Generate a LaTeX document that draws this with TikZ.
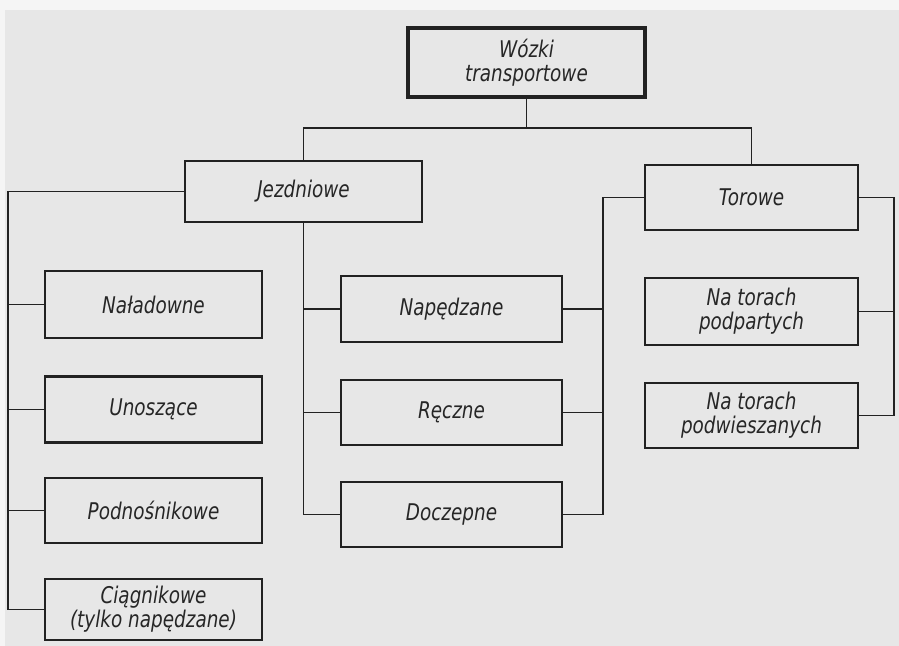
\documentclass[tikz,border=0pt]{standalone}
\usepackage{fontspec}
\newfontfamily\lett{DejaVu Sans}[FakeStretch=0.8]
\definecolor{pagebg}{HTML}{E7E7E7}
\definecolor{ink}{HTML}{222222}
\definecolor{txt}{HTML}{262626}
\begin{document}
\begin{tikzpicture}[x=0.5pt,y=-0.5pt,
  box/.style={draw=ink,line width=1.1pt,fill=pagebg,inner sep=0pt,align=center,
    text=txt,font=\lett\itshape\fontsize{11.5}{12}\selectfont},
  topbox/.style={box,line width=1.6pt},
  conn/.style={draw=ink,line width=0.8pt}]
\useasboundingbox (0,0) rectangle (899,646);
\fill[white!96!black] (0,0) rectangle (899,646);
\fill[pagebg] (5,10) rectangle (899,646);
% nodes
\node[topbox,minimum width=118.5pt,minimum height=34.5pt] (wozki) at (526.5,62.5) {W\'ozki\\transportowe};
\node[box,minimum width=118.5pt,minimum height=30.5pt] (jezd) at (303.5,191.5) {Jezdniowe};
\node[box,minimum width=106.5pt,minimum height=32.5pt] (torowe) at (751.5,197.5) {Torowe};
\node[box,minimum width=108.5pt,minimum height=33.5pt] (nal) at (153.5,304.5) {Naładowne};
\node[box,minimum width=108.5pt,minimum height=33pt] (uno) at (153.5,409.5) {Unoszące};
\node[box,minimum width=108.5pt,minimum height=32.5pt] (pod) at (153.5,510.5) {Podnośnikowe};
\node[box,minimum width=108.5pt,minimum height=30.5pt] (cia) at (153.5,609.5) {Ciągnikowe\\(tylko napędzane)};
\node[box,minimum width=110.5pt,minimum height=33pt] (nap) at (451.5,309) {Napędzane};
\node[box,minimum width=110.5pt,minimum height=32.5pt] (rec) at (451.5,412.5) {Ręczne};
\node[box,minimum width=110.5pt,minimum height=32.5pt] (docz) at (451.5,514.5) {Doczepne};
\node[box,minimum width=106.5pt,minimum height=33.5pt] (ntp) at (751.5,311.5) {Na torach\\podpartych};
\node[box,minimum width=106.5pt,minimum height=32.5pt] (ntw) at (751.5,415.5) {Na torach\\podwieszanych};
% bus coordinates
\coordinate (topbus) at (526.5,128);
\coordinate (lb) at (8,188);
\coordinate (mb) at (603,300);
\coordinate (rb) at (894,300);
% top level
\draw[conn] (wozki.south) -- (topbus);
\draw[conn] (jezd.north) -- (jezd.north |- topbus) -- (torowe.north |- topbus) -- (torowe.north);
% left bus
\draw[conn] (jezd.west) -- (jezd.west -| lb) -- (lb |- cia.west) -- (cia.west);
\draw[conn] (nal.west) -- (nal.west -| lb);
\draw[conn] (uno.west) -- (uno.west -| lb);
\draw[conn] (pod.west) -- (pod.west -| lb);
% middle bus from Jezdniowe
\draw[conn] (jezd.south) -- (jezd.south |- docz.west) -- (docz.west);
\draw[conn] (nap.west) -- (nap.west -| jezd.south);
\draw[conn] (rec.west) -- (rec.west -| jezd.south);
% middle bus from Torowe
\draw[conn] (torowe.west) -- (torowe.west -| mb) -- (mb |- docz.east) -- (docz.east);
\draw[conn] (nap.east) -- (nap.east -| mb);
\draw[conn] (rec.east) -- (rec.east -| mb);
% right bus
\draw[conn] (torowe.east) -- (torowe.east -| rb) -- (rb |- ntw.east) -- (ntw.east);
\draw[conn] (ntp.east) -- (ntp.east -| rb);
\end{tikzpicture}
\end{document}
